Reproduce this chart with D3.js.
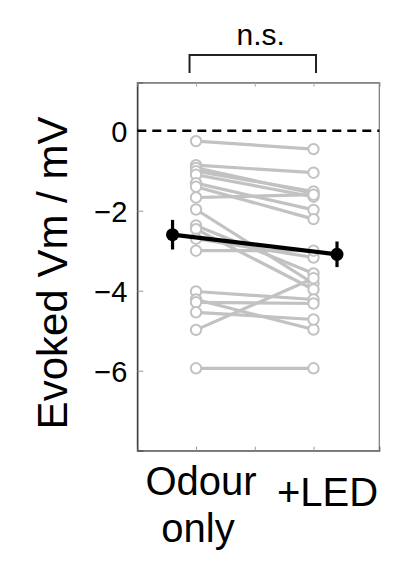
<!DOCTYPE html>
<html><head><meta charset="utf-8">
<script src="https://cdn.jsdelivr.net/npm/d3@7"></script>
<style>body{margin:0;background:#fff}svg{display:block}text{font-family:"Liberation Sans",Arial,Helvetica,sans-serif;fill:#000}</style>
</head><body>
<svg id="c" width="405" height="562"></svg>
<script>
const categories = ["Odour only", "+LED"];
const odourOnly = [-0.26, -0.86, -0.93, -1.01, -1.10, -1.31, -1.40, -1.67, -1.97, -2.37, -2.46, -2.70, -3.00, -4.02, -4.22, -4.29, -4.54, -4.98, -5.94];
const withLED   = [-0.46, -1.05, -1.57, -1.52, -1.65, -1.98, -2.21, -1.60, -3.82, -3.57, -3.97, -3.17, -3.00, -4.22, -4.97, -4.32, -4.72, -3.69, -5.94];
const meanValues = [-2.60, -3.09];
const semValues = [0.37, 0.32];
const yTicks = [0, -2, -4, -6];
const xTicks = [1, 1.5, 2];
const sigLabel = "n.s.";
const yLabel = "Evoked Vm / mV";

const svg = d3.select("#c");
const L = 137.3, R = 379.3, T = 82.7, B = 450.7;
const x = d3.scaleLinear().domain([0.5, 2.56]).range([L, R]);
const y = d3.scaleLinear().domain([-8, 1.2]).range([B, T]);
const catX = [1, 2];
const meanX = [0.8, 2.2];
const grey = "#c2c2c2";

// box
svg.append("rect").attr("x", L).attr("y", T).attr("width", R - L).attr("height", B - T)
  .attr("fill", "none").attr("stroke", "#777").attr("stroke-width", 1.2);

// y axis (ticks inward)
const yAxis = d3.axisLeft(y).tickValues(yTicks).tickSize(-6).tickPadding(10)
  .tickFormat(d => d < 0 ? "\u2212" + Math.abs(d) : d);
const gy = svg.append("g").attr("transform", `translate(${L},0)`).call(yAxis);
gy.select(".domain").attr("stroke", "#333").attr("stroke-width", 1.3);
gy.selectAll(".tick line").attr("stroke", "#999");
gy.selectAll(".tick text").style("font-size", "29px").attr("x", -10).attr("dy", "0.36em");

// x axis bottom ticks inward
const gxb = svg.append("g").attr("transform", `translate(0,${B})`)
  .call(d3.axisBottom(x).tickValues(xTicks).tickSize(-4).tickFormat(""));
gxb.select(".domain").attr("stroke", "#666").attr("stroke-width", 1.2);
gxb.selectAll(".tick line").attr("stroke", "#999");
const gxt = svg.append("g").attr("transform", `translate(0,${T})`)
  .call(d3.axisTop(x).tickValues(xTicks).tickSize(-4).tickFormat(""));
gxt.select(".domain").attr("stroke", "#888").attr("stroke-width", 1.2);
gxt.selectAll(".tick line").attr("stroke", "#aaa");

// category labels
const xl = svg.append("g");
xl.append("text").attr("x", x(catX[0]) + 5).attr("y", 495).attr("text-anchor", "middle")
  .style("font-size", "40px").text("Odour");
xl.append("text").attr("x", x(catX[0]) + 2).attr("y", 541.5).attr("text-anchor", "middle")
  .style("font-size", "40px").text("only");
xl.append("text").attr("x", x(catX[1]) + 14).attr("y", 506).attr("text-anchor", "middle")
  .style("font-size", "40px").text(categories[1]);

// y label
svg.append("text").attr("transform", `translate(67,273) rotate(-90)`)
  .attr("text-anchor", "middle").style("font-size", "42px").text(yLabel);

// zero dashed line
svg.append("line").attr("x1", L).attr("x2", R).attr("y1", y(0)).attr("y2", y(0))
  .attr("stroke", "#000").attr("stroke-width", 2.6).attr("stroke-dasharray", "9,6");

// paired lines
const pairs = odourOnly.map((v, i) => [v, withLED[i]]);
svg.append("g").selectAll("line").data(pairs).join("line")
  .attr("x1", x(catX[0])).attr("x2", x(catX[1]))
  .attr("y1", d => y(d[0])).attr("y2", d => y(d[1]))
  .attr("stroke", grey).attr("stroke-width", 3.2);
[odourOnly, withLED].forEach((arr, k) => {
  svg.append("g").selectAll("circle").data(arr).join("circle")
    .attr("cx", x(catX[k])).attr("cy", d => y(d)).attr("r", 5.2)
    .attr("fill", "#fff").attr("stroke", grey).attr("stroke-width", 2);
});

// mean line and error bars
svg.append("line").attr("x1", x(meanX[0])).attr("x2", x(meanX[1]))
  .attr("y1", y(meanValues[0])).attr("y2", y(meanValues[1]))
  .attr("stroke", "#000").attr("stroke-width", 4.2);
meanValues.forEach((m, k) => {
  svg.append("line").attr("x1", x(meanX[k])).attr("x2", x(meanX[k]))
    .attr("y1", y(m - semValues[k])).attr("y2", y(m + semValues[k]))
    .attr("stroke", "#000").attr("stroke-width", 3.2);
  svg.append("circle").attr("cx", x(meanX[k])).attr("cy", y(m)).attr("r", 6.5).attr("fill", "#000");
});

// significance bracket
const bx1 = x(catX[0]) - 6.5, bx2 = x(catX[1]) + 2.5, by = 55, bl = 73;
svg.append("path").attr("d", `M${bx1},${bl}V${by}H${bx2}V${bl}`)
  .attr("fill", "none").attr("stroke", "#222").attr("stroke-width", 2);
svg.append("text").attr("x", (bx1 + bx2) / 2 + 8).attr("y", 45).attr("text-anchor", "middle")
  .style("font-size", "30px").text(sigLabel);
</script>
</body></html>
